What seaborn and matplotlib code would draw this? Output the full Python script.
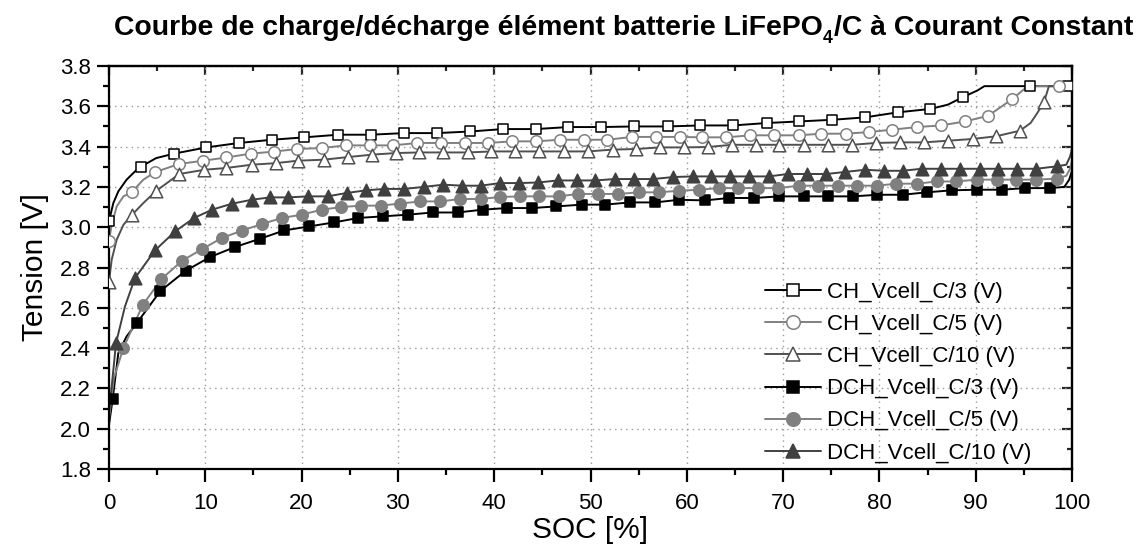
import os
import numpy as np
import matplotlib
matplotlib.use("Agg")
import matplotlib.pyplot as plt
import seaborn as sns
from matplotlib import font_manager
from matplotlib.font_manager import FontProperties
from matplotlib.lines import Line2D
from matplotlib.ticker import MultipleLocator

# ---------------- data ----------------
labels = ["CH_Vcell_C/3 (V)", "CH_Vcell_C/5 (V)", "CH_Vcell_C/10 (V)",
          "DCH_Vcell_C/3 (V)", "DCH_Vcell_C/5 (V)", "DCH_Vcell_C/10 (V)"]

# CH C/3 : marker points + extra curve points
ch3_soc = [0, 3.3, 6.76, 10.1, 13.5, 16.9, 20.3, 23.8, 27.2, 30.65, 34.05, 37.5, 40.9, 44.3,
           47.7, 51.1, 54.5, 58.0, 61.4, 64.8, 68.3, 71.7, 75.1, 78.5, 81.9, 85.3, 88.7, 95.6, 99.6]
ch3_v = [3.03, 3.30, 3.365, 3.396, 3.418, 3.434, 3.446, 3.459, 3.459, 3.467, 3.467, 3.475, 3.487, 3.487,
         3.497, 3.497, 3.50, 3.50, 3.505, 3.505, 3.517, 3.525, 3.533, 3.545, 3.57, 3.587, 3.646, 3.70, 3.70]
ch3_xs = [0.45, 0.97, 1.83, 2.7, 4.9, 87.1, 90.2, 90.9, 100]
ch3_xv = [3.12, 3.178, 3.236, 3.277, 3.343, 3.608, 3.679, 3.70, 3.70]

# CH C/5
ch5_soc = [0, 2.36, 4.78, 7.28, 9.8, 12.2, 14.7, 17.1, 19.5, 22.1, 24.6, 27.1, 29.5, 32.0, 34.5, 36.96,
           39.35, 41.85, 44.3, 46.85, 49.3, 51.75, 54.3, 56.8, 59.25, 61.6, 64.1, 66.6, 69.1, 71.6,
           73.98, 76.5, 78.9, 81.3, 83.9, 86.4, 88.9, 91.3, 93.8, 98.7]
ch5_v = [2.933, 3.174, 3.273, 3.314, 3.33, 3.346, 3.365, 3.375, 3.388, 3.393, 3.406, 3.406, 3.406, 3.418,
         3.418, 3.418, 3.418, 3.426, 3.426, 3.434, 3.434, 3.434, 3.448, 3.448, 3.448, 3.446, 3.446, 3.456,
         3.456, 3.456, 3.464, 3.464, 3.472, 3.484, 3.497, 3.505, 3.525, 3.553, 3.636, 3.70]
ch5_xs = [0.28, 0.8, 1.5, 3.57, 95.4, 100]
ch5_xv = [3.012, 3.103, 3.153, 3.236, 3.70, 3.70]

# CH C/10
ch10_soc = [0, 2.36, 4.9, 7.3, 9.9, 12.2, 14.8, 17.35, 19.6, 22.3, 24.8, 27.3, 29.8, 32.2, 34.7, 37.3,
            39.7, 42.2, 44.7, 47.2, 49.7, 52.3, 54.7, 57.2, 59.7, 62.2, 64.7, 67.2, 69.6, 72.2, 74.7,
            77.2, 79.6, 82.1, 84.6, 87.1, 89.7, 92.1, 94.6, 97.1]
ch10_v = [2.73, 3.06, 3.18, 3.264, 3.285, 3.294, 3.31, 3.318, 3.33, 3.335, 3.348, 3.36, 3.368, 3.371,
          3.371, 3.371, 3.376, 3.376, 3.376, 3.376, 3.376, 3.385, 3.388, 3.396, 3.396, 3.398, 3.409,
          3.409, 3.409, 3.409, 3.409, 3.409, 3.418, 3.421, 3.421, 3.429, 3.438, 3.451, 3.479, 3.621]
ch10_xs = [0.28, 0.8, 1.5, 3.57, 95.7, 96.4, 97.6, 100]
ch10_xv = [2.839, 2.938, 3.012, 3.12, 3.517, 3.567, 3.70, 3.70]

# DCH C/3
dch3_soc = [0.38, 2.87, 5.33, 7.97, 10.5, 13.1, 15.7, 18.2, 20.8, 23.4, 25.9, 28.5, 31.0, 33.6, 36.2,
            38.8, 41.3, 43.9, 46.4, 49.1, 51.5, 54.1, 56.7, 59.2, 61.9, 64.4, 67.0, 69.6, 72.2, 74.7,
            77.3, 79.8, 82.4, 84.9, 87.5, 90.1, 92.7, 95.1, 97.7]
dch3_v = [2.147, 2.523, 2.683, 2.784, 2.852, 2.902, 2.943, 2.984, 3.004, 3.024, 3.046, 3.054, 3.062,
          3.073, 3.073, 3.087, 3.095, 3.095, 3.103, 3.112, 3.112, 3.123, 3.123, 3.136, 3.133, 3.145,
          3.145, 3.153, 3.153, 3.153, 3.153, 3.161, 3.161, 3.173, 3.183, 3.186, 3.186, 3.194, 3.194]
dch3_xs = [0, 0.97, 1.83, 99.2, 99.7, 100]
dch3_xv = [2.02, 2.376, 2.458, 3.20, 3.235, 3.28]

# DCH C/5
dch5_soc = [1.49, 3.49, 5.45, 7.6, 9.7, 11.7, 13.8, 15.9, 17.96, 20.0, 22.1, 24.1, 26.2, 28.2, 30.2,
            32.3, 34.4, 36.5, 38.6, 40.6, 42.7, 44.7, 46.7, 48.7, 50.8, 52.9, 55.0, 57.1, 59.2, 61.3,
            63.3, 65.35, 67.4, 69.5, 71.6, 73.6, 75.7, 77.7, 79.8, 81.7, 83.9, 86.0, 88.0, 90.1, 92.2,
            94.2, 96.3, 98.4]
dch5_v = [2.40, 2.613, 2.743, 2.834, 2.892, 2.946, 2.983, 3.016, 3.046, 3.062, 3.087, 3.10, 3.107,
          3.107, 3.117, 3.128, 3.128, 3.14, 3.14, 3.15, 3.153, 3.153, 3.153, 3.165, 3.165, 3.165, 3.173,
          3.173, 3.181, 3.186, 3.194, 3.194, 3.194, 3.194, 3.206, 3.206, 3.206, 3.206, 3.206, 3.216,
          3.216, 3.227, 3.227, 3.236, 3.236, 3.236, 3.236, 3.241]
dch5_xs = [0, 0.5, 99.4, 99.8, 100]
dch5_xv = [2.05, 2.25, 3.255, 3.29, 3.33]

# DCH C/10
dch10_soc = [0.73, 2.7, 4.78, 6.86, 8.84, 10.7, 12.8, 14.8, 16.7, 18.6, 20.7, 22.7, 24.7, 26.7, 28.6,
             30.66, 32.7, 34.7, 36.7, 38.6, 40.6, 42.6, 44.6, 46.6, 48.6, 50.5, 52.5, 54.5, 56.5, 58.6,
             60.6, 62.5, 64.5, 66.5, 68.5, 70.5, 72.5, 74.5, 76.4, 78.5, 80.5, 82.4, 84.4, 86.4, 88.4,
             90.4, 92.3, 94.3, 96.3, 98.4]
dch10_v = [2.425, 2.748, 2.885, 2.979, 3.046, 3.087, 3.117, 3.136, 3.148, 3.148, 3.153, 3.153, 3.17,
           3.183, 3.19, 3.19, 3.20, 3.211, 3.206, 3.206, 3.219, 3.219, 3.222, 3.232, 3.232, 3.232, 3.239,
           3.239, 3.239, 3.249, 3.252, 3.252, 3.252, 3.252, 3.252, 3.264, 3.264, 3.264, 3.274, 3.285,
           3.28, 3.28, 3.29, 3.29, 3.29, 3.29, 3.29, 3.29, 3.29, 3.302]
dch10_xs = [0, 0.28, 1.66, 99.4, 99.8, 100]
dch10_xv = [2.08, 2.21, 2.607, 3.31, 3.35, 3.39]

x_ticks = [0, 10, 20, 30, 40, 50, 60, 70, 80, 90, 100]
y_ticks = [1.8, 2.0, 2.2, 2.4, 2.6, 2.8, 3.0, 3.2, 3.4, 3.6, 3.8]

title_parts = ["Courbe de charge/décharge élément batterie LiFePO", "4", "/C à Courant Constant"]

# ---------------- fonts ----------------
sns.set_theme(style="white")
plt.rcParams["font.family"] = ["Liberation Sans", "DejaVu Sans"]


def pick_font(patterns):
    files = [f.fname for f in font_manager.fontManager.ttflist]
    for pat in patterns:
        for fn in files:
            if os.path.basename(fn).lower().startswith(pat.lower()):
                return fn
    return None


narrow_bold = pick_font(["LiberationSansNarrow-Bold.", "ArialNarrowBold", "arialnb", "ArialNarrow-Bold"])
narrow_reg = pick_font(["LiberationSansNarrow-Regular.", "ArialNarrow.", "arialn.", "ArialNarrow-Regular"])
if narrow_bold:
    title_fp = FontProperties(fname=narrow_bold)
else:
    title_fp = FontProperties(family=["Liberation Sans", "DejaVu Sans"], weight="bold")
if narrow_reg:
    tick_fp = FontProperties(fname=narrow_reg, size=17.5)
else:
    tick_fp = FontProperties(family=["Liberation Sans", "DejaVu Sans"], size=16)

series = [
    (ch3_soc, ch3_v, ch3_xs, ch3_xv, "#000000", "s", "white", 58),
    (ch5_soc, ch5_v, ch5_xs, ch5_xv, "#808080", "o", "white", 68),
    (ch10_soc, ch10_v, ch10_xs, ch10_xv, "#505050", "^", "white", 82),
    (dch3_soc, dch3_v, dch3_xs, dch3_xv, "#000000", "s", "#000000", 58),
    (dch5_soc, dch5_v, dch5_xs, dch5_xv, "#808080", "o", "#808080", 68),
    (dch10_soc, dch10_v, dch10_xs, dch10_xv, "#404040", "^", "#404040", 82),
]

fig = plt.figure(figsize=(11.44, 5.5), dpi=100)
L, R, T, B = 109, 1072, 66, 469
ax = fig.add_axes([L / 1144, 1 - B / 550, (R - L) / 1144, (B - T) / 550])

handles = []
for (ms, mv, es, ev, col, mk, fc, sz), lab in zip(series, labels):
    x = np.concatenate([ms, es]).astype(float)
    y = np.concatenate([mv, ev]).astype(float)
    o = np.argsort(x, kind="stable")
    sns.lineplot(x=x[o], y=y[o], ax=ax, color=col, linewidth=1.4, sort=False,
                 estimator=None, legend=False, zorder=2)
    sns.scatterplot(x=ms, y=mv, ax=ax, marker=mk, s=sz, color=fc, edgecolor=col,
                    linewidth=1.1, zorder=3, legend=False)
    handles.append(Line2D([], [], color=col, linewidth=1.4, marker=mk,
                          markersize=np.sqrt(sz) + 1.5, markerfacecolor=fc,
                          markeredgecolor=col, markeredgewidth=1.1, label=lab))

ax.set_xlim(0, 100)
ax.set_ylim(1.8, 3.8)
ax.set_xticks(x_ticks)
ax.set_yticks(y_ticks)
ax.set_xticklabels([str(t) for t in x_ticks])
ax.set_yticklabels([f"{t:.1f}" for t in y_ticks])
ax.xaxis.set_minor_locator(MultipleLocator(5))
ax.yaxis.set_minor_locator(MultipleLocator(0.1))
ax.grid(True, which="major", linestyle=(0, (1, 3)), color="#9a9a9a", linewidth=1.0)
ax.set_axisbelow(True)

for sp in ax.spines.values():
    sp.set_visible(True)
    sp.set_color("black")
    sp.set_linewidth(1.6)

ax.tick_params(which="major", direction="out", length=9, width=1.6, color="black",
               bottom=True, left=True, top=False, right=False, labelcolor="black")
ax.tick_params(axis="x", which="major", pad=8)
ax.tick_params(axis="y", which="major", pad=4)
ax.tick_params(which="minor", direction="out", length=4.5, width=1.6, color="black",
               bottom=True, left=True, top=False, right=False)
for lab in ax.get_xticklabels() + ax.get_yticklabels():
    lab.set_fontproperties(tick_fp)

secx = ax.secondary_xaxis("top")
secx.set_xticks(x_ticks)
secx.xaxis.set_minor_locator(MultipleLocator(5))
secx.tick_params(which="major", direction="in", length=6.5, width=1.6, labeltop=False, top=True)
secx.tick_params(which="minor", direction="in", length=3.5, width=1.6, top=True)
secx.spines["top"].set_linewidth(1.6)
secy = ax.secondary_yaxis("right")
secy.set_yticks(y_ticks)
secy.yaxis.set_minor_locator(MultipleLocator(0.1))
secy.tick_params(which="major", direction="in", length=7, width=1.6, labelright=False, right=True)
secy.tick_params(which="minor", direction="in", length=3.5, width=1.6, right=True)
secy.spines["right"].set_linewidth(1.6)

ax.set_xlabel("SOC [%]", fontsize=21.5, color="black", labelpad=2)
ax.set_ylabel("Tension [V]", fontsize=21.5, color="black", labelpad=8)

leg = ax.legend(handles=handles, loc="upper left",
                bbox_to_anchor=((765 - L) / (R - L), (B - 282) / (B - T)),
                frameon=False, fontsize=16, handlelength=2.5, handletextpad=0.27,
                labelspacing=0.5, borderpad=0, borderaxespad=0, numpoints=1)
for t in leg.get_texts():
    t.set_color("black")

# ---------------- title, fitted to the reference width ----------------
renderer = fig.canvas.get_renderer()
x_left, x_right, base_y = 114, 1133, 35


def place_title(fs):
    texts = []
    x = x_left
    for i, part in enumerate(title_parts):
        fp = title_fp.copy()
        sub = (i == 1)
        fp.set_size(fs * (0.62 if sub else 1.0))
        yy = base_y + (fs * 100 / 72 * 0.28 if sub else 0)
        t = fig.text(x / 1144, 1 - yy / 550, part, fontproperties=fp, color="black",
                     ha="left", va="baseline")
        w = t.get_window_extent(renderer).width
        x += w + (1 if sub else 0)
        texts.append(t)
    return texts, x - x_left


fs0 = 22.5
txts, width = place_title(fs0)
for t in txts:
    t.remove()
fs = fs0 * (x_right - x_left) / width
place_title(fs)

fig.savefig("out.png", dpi=100, facecolor="white")
